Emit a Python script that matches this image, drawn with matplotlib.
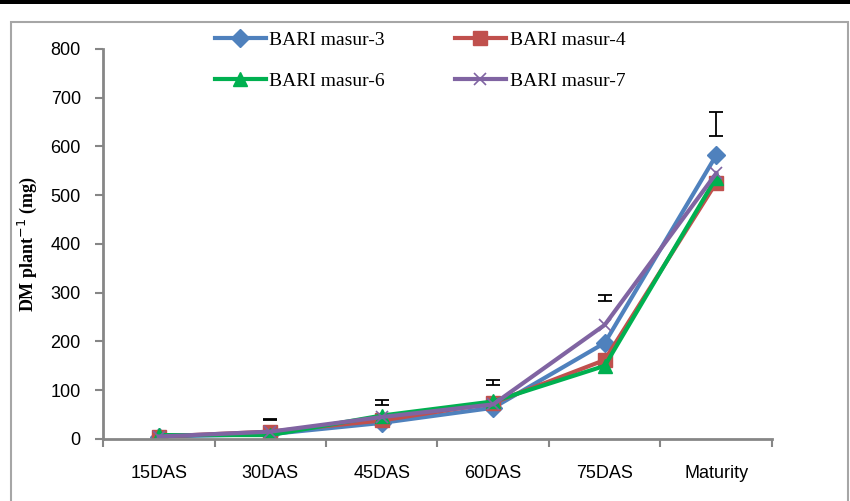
import matplotlib.pyplot as plt
from matplotlib.patches import Rectangle

# data
stages = ["15DAS", "30DAS", "45DAS", "60DAS", "75DAS", "Maturity"]
masur3 = [5, 10, 33, 64, 197, 582]
masur4 = [5, 15, 38, 74, 162, 526]
masur6 = [8, 8, 48, 77, 150, 536]
masur7 = [5, 15, 45, 71, 234, 545]
err_mid = [None, 40, 75, 116, 289, 646]
err_half = [None, 2, 5, 5, 6, 25]

fig = plt.figure(figsize=(8.5, 5.01), dpi=100)
ax = fig.add_axes([0.1212, 0.1238, 0.787, 0.7784])

x = list(range(len(stages)))
h3, = ax.plot(x, masur3, color="#4F81BD", lw=3, marker="D", ms=9, label="BARI masur-3")
h4, = ax.plot(x, masur4, color="#C0504D", lw=3, marker="s", ms=10, label="BARI masur-4")
h6, = ax.plot(x, masur6, color="#00B050", lw=3, marker="^", ms=10, label="BARI masur-6")
h7, = ax.plot(x, masur7, color="#8064A2", lw=3, marker="x", ms=9, mew=1.2, label="BARI masur-7")

ex = [i for i, m in zip(x, err_mid) if m is not None]
ey = [m for m in err_mid if m is not None]
ee = [e for e in err_half if e is not None]
ax.errorbar(ex, ey, yerr=ee, fmt="none", ecolor="black", elinewidth=1.3,
            capsize=5, capthick=1.3)

ax.set_xlim(-0.5, len(stages) - 0.5)
ax.set_ylim(0, 800)
ax.set_yticks(range(0, 801, 100))
ax.set_xticks(x)
ax.set_xticklabels(stages)
ax.set_xticks([i - 0.5 for i in range(len(stages) + 1)], minor=True)
ax.tick_params(axis="x", which="major", length=0, pad=19)
ax.tick_params(axis="x", which="minor", length=6, width=1.5, color="#868686", direction="out")
ax.tick_params(axis="y", length=6, width=1.5, color="#868686", pad=10)
for lab in ax.get_xticklabels() + ax.get_yticklabels():
    lab.set_fontfamily("Liberation Sans")
    lab.set_fontsize(13)
for s in ["top", "right"]:
    ax.spines[s].set_visible(False)
for s in ["left", "bottom"]:
    ax.spines[s].set_color("#868686")
    ax.spines[s].set_linewidth(2)

ax.set_ylabel("DM plant$^{-1}$ (mg)", fontfamily="Liberation Serif",
              fontweight="bold", fontsize=13, labelpad=8)

# ncol=2 fills by column, so order handles to get 3,4 / 6,7 rows
fig.legend([h3, h6, h4, h7], ["BARI masur-3", "BARI masur-6", "BARI masur-4", "BARI masur-7"],
           loc="upper left", bbox_to_anchor=(0.253, 0.938), ncol=2, frameon=False,
           prop={"family": "Liberation Serif", "size": 14}, handlelength=2.6,
           columnspacing=3.6, labelspacing=1.2, handletextpad=0.2,
           borderpad=0, borderaxespad=0)

# outer frame and top bar
fig.patches.append(Rectangle((11 / 850, -0.05), 837 / 850, 1 - 22 / 501 + 0.05,
                             transform=fig.transFigure, fill=False,
                             edgecolor="#A6A6A6", lw=1.5))
fig.patches.append(Rectangle((0, 1 - 4 / 501), 1, 4 / 501, transform=fig.transFigure,
                             facecolor="black", edgecolor="none"))

fig.savefig("out.png", dpi=100)
